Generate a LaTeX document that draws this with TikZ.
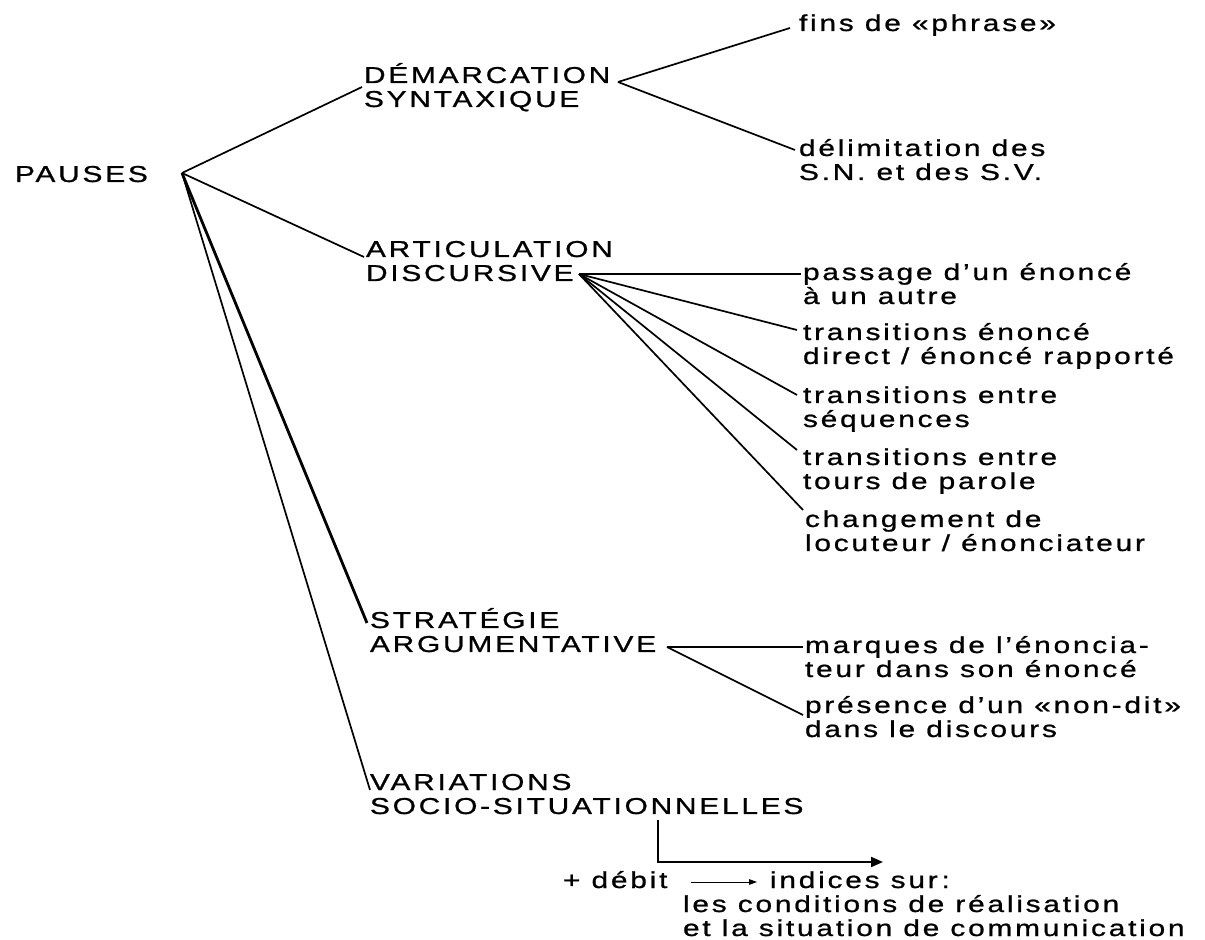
\documentclass[tikz,border=0pt]{standalone}
\usepackage{fontspec}
\setmainfont{Liberation Sans}[FakeStretch=1.3,LetterSpace=12,FakeBold=0.9,Ligatures=NoCommon]
\usetikzlibrary{arrows.meta}
\newcommand{\twoline}[2]{\vtop{\hbox{#1}\hbox{#2}}}
\begin{document}
\begin{tikzpicture}[x=0.5pt,y=-0.5pt,
  lbl/.style={anchor=base west,inner sep=0pt,outer sep=0pt,font=\fontsize{11.5}{12}\selectfont},
  link/.style={line width=0.85pt},
  heavylink/.style={line width=1.4pt},
  bracket/.style={line width=1pt,-{Triangle[length=6pt,width=5pt]}},
  smallarrow/.style={line width=0.45pt,-{Triangle[length=4pt,width=2.8pt]}}]
\useasboundingbox (0,0) rectangle (1205,940);
% nodes
\node[lbl] (pauses) at (15,182) {PAUSES};
\node[lbl] (dem) at (364,83) {\twoline{DÉMARCATION}{SYNTAXIQUE}};
\node[lbl] (fins) at (799,31) {fins de «phrase»};
\node[lbl] (delim) at (799,156) {\twoline{délimitation des}{S.N. et des S.V.}};
\node[lbl] (art) at (366,257) {\twoline{ARTICULATION}{DISCURSIVE}};
\node[lbl] (pass) at (803,280) {\twoline{passage d’un énoncé}{à un autre}};
\node[lbl] (tre) at (803,340) {\twoline{transitions énoncé}{direct / énoncé rapporté}};
\node[lbl] (tseq) at (803,403) {\twoline{transitions entre}{séquences}};
\node[lbl] (ttp) at (803,465) {\twoline{transitions entre}{tours de parole}};
\node[lbl] (chg) at (805,527) {\twoline{changement de}{locuteur / énonciateur}};
\node[lbl] (strat) at (370,628) {\twoline{STRATÉGIE}{ARGUMENTATIVE}};
\node[lbl] (marq) at (805,653) {\twoline{marques de l’énoncia-}{teur dans son énoncé}};
\node[lbl] (pres) at (805,713) {\twoline{présence d’un «non-dit»}{dans le discours}};
\node[lbl] (var) at (370,790) {\twoline{VARIATIONS}{SOCIO-SITUATIONNELLES}};
\node[lbl] (debit) at (563,888) {+ débit};
\node[lbl] (ind) at (770,888) {indices sur\,:};
\node[lbl] (cond) at (683,912) {\twoline{les conditions de réalisation}{et la situation de communication}};
% junction points
\coordinate (pj) at (182,173);
\coordinate (demF) at (618,82);
\coordinate (discF) at (579,274);
\coordinate (argF) at (667,647);
\coordinate (brS) at (658,820);
\coordinate (brE) at (883,862);
% connectors
\draw[link] (pj) -- ([shift={(-2,4)}]dem.base west);
\draw[link] (demF) -- ([shift={(-9,-3)}]fins.base west);
\draw[link] (demF) -- ([shift={(-4,-6)}]delim.base west);
\draw[link] (pj) -- ([shift={(-2,0)}]art.base west);
\draw[link] (discF) -- ([shift={(-2,-6)}]pass.base west);
\draw[link] (discF) -- ([shift={(-6,-10)}]tre.base west);
\draw[link] (discF) -- ([shift={(-6,-8)}]tseq.base west);
\draw[link] (discF) -- ([shift={(-6,-15)}]ttp.base west);
\draw[link] (discF) -- ([shift={(-2,-17)}]chg.base west);
\draw[heavylink] (pj) -- ([shift={(-3,-5)}]strat.base west);
\draw[link] (pj) -- (var.base west);
\draw[link] (argF) -- ([shift={(-2,-6)}]marq.base west);
\draw[link] (argF) -- ([shift={(-2,2)}]pres.base west);
\draw[bracket] (brS) |- (brE);
\draw[smallarrow] ([shift={(24,-6)}]debit.base east) -- ([shift={(-13,-6)}]ind.base west);
\end{tikzpicture}
\end{document}
